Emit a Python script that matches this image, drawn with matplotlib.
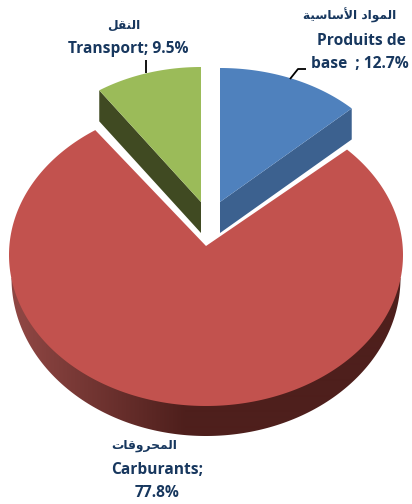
import numpy as np
import matplotlib
matplotlib.use("Agg")
import matplotlib.pyplot as plt
from matplotlib.patches import Polygon
from matplotlib.colors import to_rgb

categories_fr = ["Produits de\nbase  ; ", "Carburants;\n", "Transport; "]
categories_ar = ["المواد الأساسية", "المحروقات", "النقل"]
values = [12.7, 77.8, 9.5]

TOP = ["#4f81bd", "#c2524e", "#9bbb59"]
SIDE = ["#3c618f", "#4e1f1c", "#404a22"]
TEXT = "#17375e"

# minimal Arabic shaping: isolated, final, initial, medial presentation forms
FORMS = {
    "ا": ("\ufe8d", "\ufe8e", None, None), "أ": ("\ufe83", "\ufe84", None, None),
    "د": ("\ufea9", "\ufeaa", None, None), "ر": ("\ufead", "\ufeae", None, None),
    "و": ("\ufeed", "\ufeee", None, None), "ة": ("\ufe93", "\ufe94", None, None),
    "ل": ("\ufedd", "\ufede", "\ufedf", "\ufee0"), "م": ("\ufee1", "\ufee2", "\ufee3", "\ufee4"),
    "ح": ("\ufea1", "\ufea2", "\ufea3", "\ufea4"), "ق": ("\ufed5", "\ufed6", "\ufed7", "\ufed8"),
    "ت": ("\ufe95", "\ufe96", "\ufe97", "\ufe98"), "ن": ("\ufee5", "\ufee6", "\ufee7", "\ufee8"),
    "س": ("\ufeb1", "\ufeb2", "\ufeb3", "\ufeb4"), "ي": ("\ufef1", "\ufef2", "\ufef3", "\ufef4"),
}


def shape(text):
    words = []
    for word in text.split(" "):
        out, prev_joins, i = [], False, 0
        while i < len(word):
            c = word[i]
            if c == "ل" and i + 1 < len(word) and word[i + 1] == "أ":
                out.append("\ufef8" if prev_joins else "\ufef7")
                prev_joins = False
                i += 2
                continue
            f = FORMS[c]
            next_exists = i + 1 < len(word)
            if f[2] is None:
                out.append(f[1] if prev_joins else f[0])
                prev_joins = False
            else:
                if prev_joins:
                    out.append(f[3] if next_exists else f[1])
                else:
                    out.append(f[2] if next_exists else f[0])
                prev_joins = next_exists
            i += 1
        words.append("".join(out[::-1]))
    return " ".join(words[::-1])


fig = plt.figure(figsize=(4.12, 5.04), dpi=100, facecolor="white")
ax = fig.add_axes([0, 0, 1, 1])

edges = np.cumsum([0] + values) / sum(values) * 2 * np.pi


def pt(t, cx, cy, rx, ry):
    return np.column_stack([cx + rx * np.sin(t), cy - ry * np.cos(t)])


# red slice: rim (a slightly smaller, lower half-ellipse) filled with a horizontal gradient
cx, cy, rx, ry = 206, 255, 197, 151
rim = Polygon(pt(np.linspace(np.pi * 0.5, np.pi * 1.5, 300), 206, 278, 194.5, 158),
              closed=True, fc="none", ec="none")
ax.add_patch(rim)
xs = np.arange(0, 412)
frac = np.clip((185 - xs) / 165, 0, 1)[None, :, None]
dark = np.array(to_rgb(SIDE[1]))
light = np.array(to_rgb("#8e4643"))
grad = dark + (light - dark) * frac
im = ax.imshow(grad, extent=(0, 412, 504, 0), aspect="auto", interpolation="bilinear")
im.set_clip_path(rim)

arc = pt(np.linspace(edges[1], edges[2], 300), cx, cy, rx, ry)
ax.add_patch(Polygon(np.vstack([[[206, 246]], arc]), closed=True, fc=TOP[1], ec="none"))

# detached slices: blue and green
geom = [(220, 202, 184, 134, 0), (201, 202, 181, 135, 2)]
for x0, y0, rx2, ry2, i in geom:
    arc = pt(np.linspace(edges[i], edges[i + 1], 80), x0, y0, rx2, ry2)
    corner = arc[-1] if i == 0 else arc[0]
    apex = np.array([x0, y0], float)
    ax.add_patch(Polygon([apex, corner, corner + [0, 31], apex + [0, 31]], closed=True,
                         fc=SIDE[i], ec="none"))
    ax.add_patch(Polygon(np.vstack([[apex], arc]), closed=True, fc=TOP[i], ec="none"))

# leader lines
ax.plot([146, 146], [60, 73], color="black", lw=1.3, solid_capstyle="butt")
ax.plot([290, 298, 306], [79, 69, 69], color="black", lw=1.3, solid_capstyle="butt")

ax.set_xlim(0, 412)
ax.set_ylim(504, 0)
ax.axis("off")

# labels
FS = 11.2
AFS = 8.8
kw = dict(color=TEXT, fontweight="bold", ha="center", va="center", family="Open Sans")
kwa = dict(color=TEXT, fontweight="bold", ha="center", va="center", family="DejaVu Sans")

ax.text(350, 15, shape(categories_ar[0]), fontsize=AFS, **kwa)
lines = (categories_fr[0] + f"{values[0]}%").split("\n")
ax.text(361, 41, lines[0], fontsize=FS, **kw)
ax.text(360, 64, lines[1], fontsize=FS, **kw)

ax.text(124, 25, shape(categories_ar[2]), fontsize=AFS, **kwa)
ax.text(128.5, 49, categories_fr[2] + f"{values[2]}%", fontsize=FS, **kw)

ax.text(144, 445, shape(categories_ar[1]), fontsize=AFS, **kwa)
lines = (categories_fr[1] + f"{values[1]}%").split("\n")
ax.text(157, 470, lines[0], fontsize=FS, **kw)
ax.text(157, 493, lines[1], fontsize=FS, **kw)

fig.savefig("out.png", dpi=100, facecolor="white")
